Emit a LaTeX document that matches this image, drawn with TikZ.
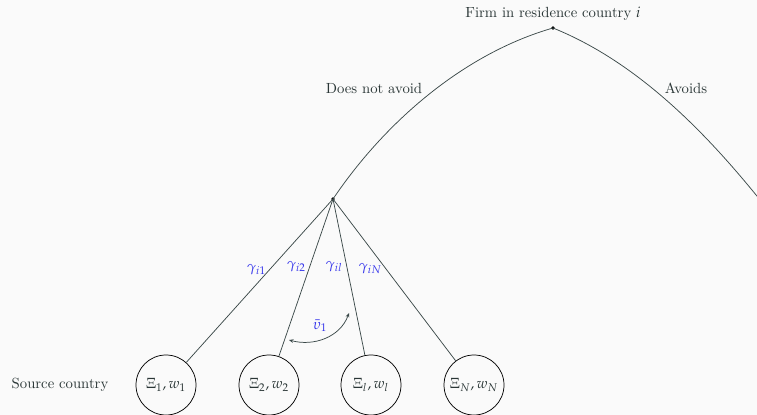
\documentclass[tikz,border=0pt]{standalone}
\usepackage{mathpazo}
\usetikzlibrary{arrows.meta}
\definecolor{bgc}{RGB}{250,250,250}
\definecolor{textc}{RGB}{42,54,54}
\definecolor{linec}{RGB}{58,72,72}
\definecolor{bluec}{RGB}{52,52,235}
\tikzset{
  txt/.style={text=textc, inner sep=0pt},
  branch/.style={draw=linec, line width=0.5pt},
  dotnode/.style={circle, fill=black, inner sep=0pt, minimum size=2.4pt},
  country/.style={circle, draw=black, line width=0.5pt, minimum size=40.8pt, inner sep=0pt, text=textc},
  glab/.style={text=bluec, anchor=east, inner sep=2.5pt, pos=0.43},
}
\begin{document}
\begin{tikzpicture}[x=0.68pt, y=-0.68pt]
\useasboundingbox[fill=bgc] (0,0) rectangle (757,415);
\begin{scope}
\clip (0,0) rectangle (757,415);
\node[dotnode] (top) at (553,28) {};
\node[txt, anchor=base] (title) at (553,18) {Firm in residence country $i$};
\node[dotnode] (mid) at (333,199) {};
\coordinate (right) at (772,215);
\node[txt] (dna) at (374,88) {Does not avoid};
\node[txt] (av) at (686,88) {Avoids};
\draw[branch] (top.center) to[out=196, in=56, looseness=0.85] (mid.center);
\draw[branch] (top.center) to[out=-22, in=128, looseness=0.85] (right);
\node[country] (c1) at (166,385) {$\Xi_1, w_1$};
\node[country] (c2) at (269,385) {$\Xi_2, w_2$};
\node[country] (c3) at (371,385) {$\Xi_l, w_l$};
\node[country] (c4) at (474,385) {$\Xi_N, w_N$};
\node[txt] (src) at (60,385) {Source country};
\draw[branch] (mid.center) -- node[glab] {$\gamma_{i1}$} (c1);
\draw[branch] (mid.center) -- node[glab] {$\gamma_{i2}$} (c2);
\draw[branch] (mid.center) -- node[glab] {$\gamma_{il}$} (c3);
\draw[branch] (mid.center) -- node[glab] {$\gamma_{iN}$} (c4);
\coordinate (a1) at (349,313);
\coordinate (a2) at (289,340);
\draw[draw=linec, line width=0.5pt, {Stealth[length=3pt,width=2.5pt]}-{Stealth[length=3pt,width=2.5pt]}] (a1) to[out=250, in=-15] (a2);
\node[text=bluec, inner sep=0pt] (th) at (320,326) {$\bar{\upsilon}_1$};
\end{scope}
\end{tikzpicture}
\end{document}
